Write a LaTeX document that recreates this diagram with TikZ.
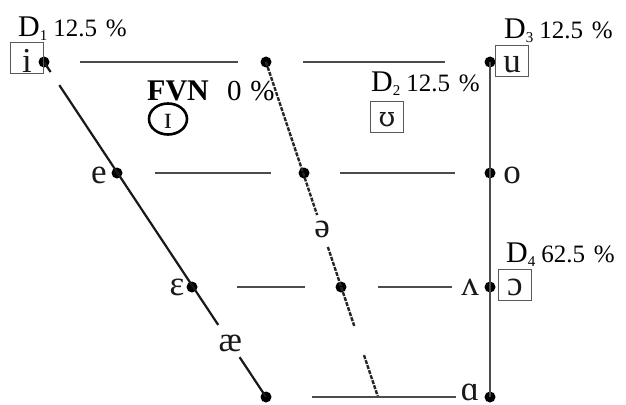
\documentclass[tikz,border=0pt]{standalone}
\usepackage{fontspec}
\setmainfont{Liberation Serif}
\newfontfamily\ipaalt{DejaVu Serif}
\usetikzlibrary{calc,shapes.geometric}
\newcommand\dlab[2]{{\fontsize{30}{30}\selectfont D}\raisebox{-4pt}{\fontsize{15}{15}\selectfont #1}\hspace{6pt}{\fontsize{25}{25}\selectfont #2\hspace{0.35em}\%}}
\tikzset{
  dotp/.style={circle, fill=black, inner sep=0pt, minimum size=11pt},
  solidln/.style={line width=2.2pt, draw=black!90},
  hln/.style={line width=2.2pt, draw=black!70},
  dashln/.style={line width=2.4pt, draw=black!85, dash pattern=on 4pt off 1.3pt},
  ipa/.style={font=\fontsize{35}{35}\selectfont, inner sep=0pt, text=black!90},
  ipabox/.style={draw=black!65, line width=0.9pt, inner sep=0pt, minimum width=33pt, minimum height=31pt},
  dtext/.style={inner sep=0pt, anchor=base west, text=black}
}
\begin{document}
\begin{tikzpicture}[x=1pt,y=-1pt]
\useasboundingbox (0,0) rectangle (626,404);
\clip (0,0) rectangle (626,404);
% dots
\node[dotp] (i) at (44,62) {};
\node[dotp] (t2) at (266,62) {};
\node[dotp] (u) at (490,62) {};
\node[dotp] (e) at (117,173) {};
\node[dotp] (c2) at (304,173) {};
\node[dotp] (o) at (490,173) {};
\node[dotp] (eps) at (192,287) {};
\node[dotp] (c3) at (341,287) {};
\node[dotp] (wedge) at (490,287) {};
\node[dotp] (ae) at (266,397) {};
\node[dotp] (a) at (490,397) {};
\coordinate (dend) at (378,397);
% left solid line
\draw[solidln] (i.center) -- ($(i.center)!0.03!(ae.center)$);
\draw[solidln] ($(i.center)!0.069!(ae.center)$) -- ($(i.center)!0.785!(ae.center)$);
\draw[solidln] ($(i.center)!0.881!(ae.center)$) -- (ae.center);
% central dashed line
\draw[dashln] (t2.center) -- ($(t2.center)!0.457!(dend)$);
\draw[dashln] ($(t2.center)!0.552!(dend)$) -- ($(t2.center)!0.788!(dend)$);
\draw[dashln] ($(t2.center)!0.875!(dend)$) -- (dend);
% right vertical line
\draw[hln] (u.center) -- (a.center);
% horizontal lines
\draw[hln] (80,62) -- (238,62);
\draw[hln] (303,62) -- (445,62);
\draw[hln] (155,173) -- (271,173);
\draw[hln] (340,173) -- (455,173);
\draw[hln] (237,287) -- (305,287);
\draw[hln] (378,287) -- (452,287);
\draw[hln] (312,397) -- (456,397);
% boxes
\node[ipabox] (bi) at (26.5,57.5) {};
\node[ipabox] (bu) at (511.5,61) {};
\node[ipabox] (bup) at (386.5,116.5) {};
\node[ipabox] (bo) at (514.5,284.5) {};
\node[ipa, anchor=base] (li) at (27,72) {i};
\node[ipa, anchor=base] (lu) at (512,72) {u};
\node[ipa, anchor=base, font=\ipaalt\fontsize{27}{27}\selectfont] (lup) at (387,126) {ʊ};
\node[ipa, anchor=base] (lo) at (515,295) {ɔ};
% vowel labels
\node[ipa, anchor=base] (le) at (99,183) {e};
\node[ipa, anchor=base] (loo) at (512,183) {o};
\node[ipa, anchor=base] (leps) at (177,295) {ɛ};
\node[ipa, anchor=base] (lw) at (470,295) {ʌ};
\node[ipa, anchor=base] (lsch) at ($(t2.center)!0.501!(dend)+(0,8)$) {ə};
\node[ipa, anchor=base] (lae) at ($(i.center)!0.839!(ae.center)+(0,8)$) {æ};
\node[ipa, anchor=base, text depth=0pt] (la) at (470,400) {ɑ};
% D labels
\node[dtext] (d1) at (18,37) {\dlab{1}{12.5}};
\node[dtext] (d2) at (371,91) {\dlab{2}{12.5}};
\node[dtext] (d3) at (504,39) {\dlab{3}{12.5}};
\node[dtext] (d4) at (506,262) {\dlab{4}{62.5}};
% FVN
\node[dtext, font=\fontsize{30}{30}\selectfont\bfseries] (fvn) at (147,100) {FVN};
\node[dtext, font=\fontsize{29}{29}\selectfont] (fvnp) at (227,100) {0\hspace{0.3em}\%};
\node[ellipse, draw=black, line width=2.6pt, minimum width=38pt, minimum height=31pt, inner sep=0pt] (circ) at (168,119) {};
\node[ipa, anchor=base, font=\fontsize{31}{31}\selectfont] (lI) at (168,128) {ɪ};
\end{tikzpicture}
\end{document}
